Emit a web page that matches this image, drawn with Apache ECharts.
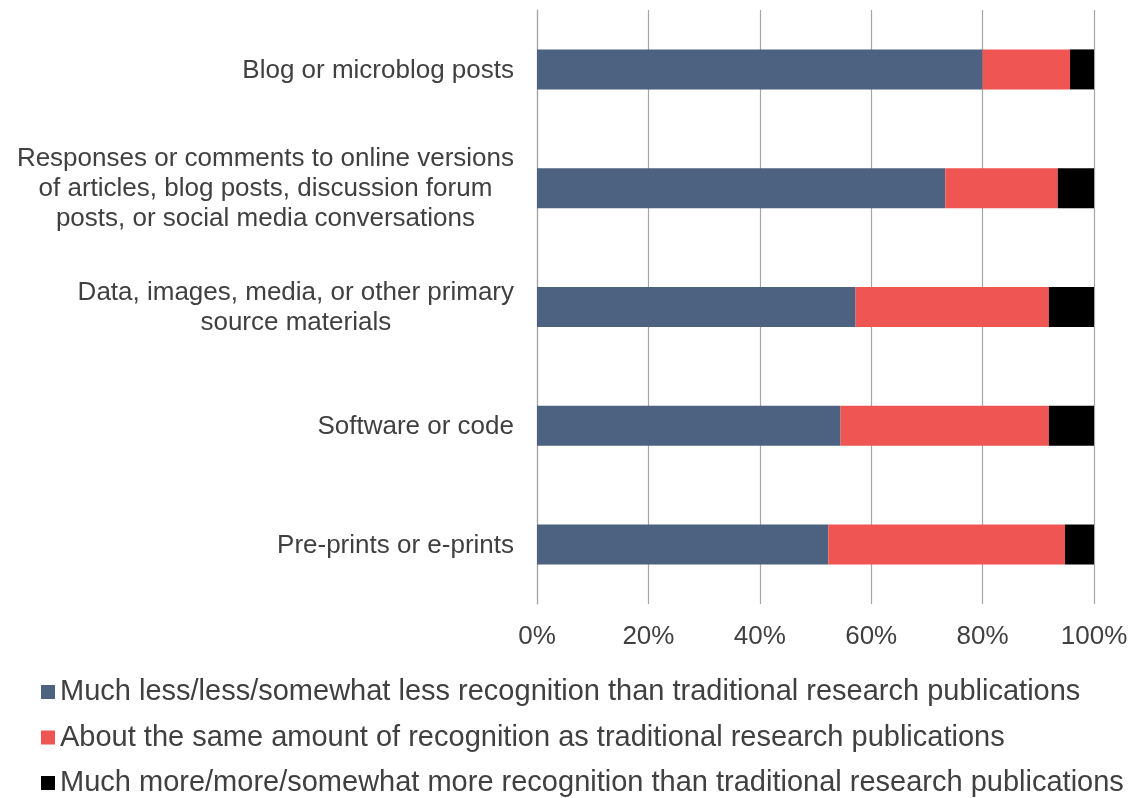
<!DOCTYPE html>
<html>
<head>
<meta charset="utf-8">
<script src="https://cdn.jsdelivr.net/npm/echarts@6/dist/echarts.min.js"></script>
<style>
  html, body { margin: 0; padding: 0; background: #fff; }
  #chart { width: 1133px; height: 798px; }
</style>
</head>
<body>
<div id="chart"></div>
<script>
const categories = [
  'Blog or microblog posts',
  'Responses or comments to online versions\nof articles, blog posts, discussion forum\nposts, or social media conversations',
  'Data, images, media, or other primary\nsource materials',
  'Software or code',
  'Pre-prints or e-prints'
]
const seriesNames = [
  'Much less/less/somewhat less recognition than traditional research publications',
  'About the same amount of recognition as traditional research publications',
  'Much more/more/somewhat more recognition than traditional research publications'
]
const lessValues = [80.0, 73.3, 57.2, 54.5, 52.3]
const sameValues = [15.7, 20.2, 34.7, 37.4, 42.5]
const moreValues = [4.3, 6.5, 8.1, 8.1, 5.2]
const colors = ['#4C6280', '#EF5552', '#000000']

const font = '"Liberation Sans", Arial, sans-serif'
const textColor = '#404040'
const gridColor = '#a6a6a6'

const myChart = echarts.init(document.getElementById('chart'))

const makeSeries = (name, data, color) => ({
  name: name,
  type: 'bar',
  stack: 'total',
  barWidth: 40,
  itemStyle: { color: color },
  data: data
})

const option = {
  animation: false,
  color: colors,
  grid: {
    left: 537,
    right: 39,
    top: 10,
    bottom: 194
  },
  legend: {
    orient: 'vertical',
    left: 41,
    top: 676,
    height: 130,
    padding: 0,
    icon: 'rect',
    itemWidth: 14,
    itemHeight: 14,
    itemGap: 13.5,
    textStyle: {
      fontFamily: font,
      fontSize: 29,
      color: textColor,
      lineHeight: 32
    },
    data: seriesNames
  },
  xAxis: {
    type: 'value',
    min: 0,
    max: 100,
    interval: 20,
    axisLine: { show: false },
    axisTick: { show: false },
    splitLine: { lineStyle: { color: gridColor, width: 1.2 } },
    axisLabel: {
      margin: 20,
      fontFamily: font,
      fontSize: 26,
      color: textColor,
      formatter: '{value}%'
    }
  },
  yAxis: {
    type: 'category',
    inverse: true,
    data: categories,
    axisLine: { show: true, lineStyle: { color: gridColor, width: 1.2 } },
    axisTick: { show: false },
    axisLabel: {
      margin: 23,
      fontFamily: font,
      fontSize: 26,
      color: textColor,
      formatter: (v) => v.split('\n').map(l => '{c|' + l + '}').join('\n'),
      rich: {
        c: {
          align: 'center',
          fontFamily: font,
          fontSize: 26,
          color: textColor,
          lineHeight: 30,
          padding: [2, 0, 0, 0]
        }
      }
    }
  },
  series: [
    makeSeries(seriesNames[0], lessValues, colors[0]),
    makeSeries(seriesNames[1], sameValues, colors[1]),
    makeSeries(seriesNames[2], moreValues, colors[2])
  ]
}

myChart.setOption(option)
</script>
</body>
</html>
